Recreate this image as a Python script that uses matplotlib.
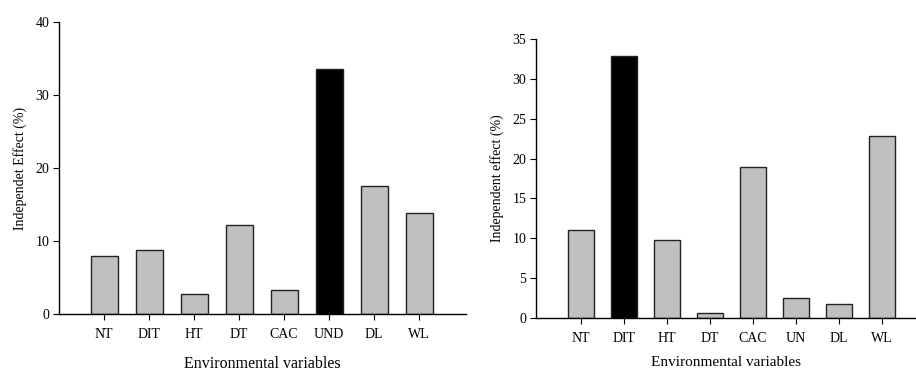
import numpy as np
import matplotlib.pyplot as plt

plt.rcParams['font.family'] = ['Liberation Serif', 'DejaVu Serif']

left_labels = ["NT", "DIT", "HT", "DT", "CAC", "UND", "DL", "WL"]
left_values = [7.9, 8.7, 2.8, 12.2, 3.3, 33.5, 17.6, 13.9]
left_highlight = "UND"

right_labels = ["NT", "DIT", "HT", "DT", "CAC", "UN", "DL", "WL"]
right_values = [11.1, 32.8, 9.8, 0.7, 19.0, 2.5, 1.8, 22.8]
right_highlight = "DIT"

fig = plt.figure(figsize=(9.16, 3.72), dpi=100)
ax1 = fig.add_axes([0.0644, 0.1559, 0.5087 - 0.0644, 0.9409 - 0.1559])
ax2 = fig.add_axes([0.5852, 0.1443, 1.0 - 0.5852, 0.896 - 0.1443])


def draw(ax, labels, values, hl, ymax, ystep, ylabel, xlim, xl_size, xl_pad):
    x = np.arange(len(labels))
    colors = ["black" if l == hl else "#c0c0c0" for l in labels]
    ax.bar(x, values, width=0.6, color=colors, edgecolor="#222222", linewidth=1.0)
    ax.set_xlim(*xlim)
    ax.set_ylim(0, ymax)
    ax.set_xticks(x)
    ax.set_xticklabels(labels, fontsize=10)
    ax.set_yticks(np.arange(0, ymax + 0.1, ystep))
    ax.tick_params(axis="both", direction="out", length=4, width=0.8, labelsize=10, pad=3)
    ax.tick_params(axis="x", pad=6)
    for s in ["top", "right"]:
        ax.spines[s].set_visible(False)
    for s in ["left", "bottom"]:
        ax.spines[s].set_linewidth(1.0)
    ax.set_xlabel("Environmental variables", fontsize=xl_size, labelpad=xl_pad)
    ax.set_ylabel(ylabel, fontsize=10, labelpad=6)


draw(ax1, left_labels, left_values, left_highlight, 40, 10,
     "Independet Effect (%)", (-1.0, 8.04), 11.5, 11)
draw(ax2, right_labels, right_values, right_highlight, 35, 5,
     "Independent effect (%)", (-1.05, 7.8), 11, 8)

fig.savefig("out.png", dpi=100)
